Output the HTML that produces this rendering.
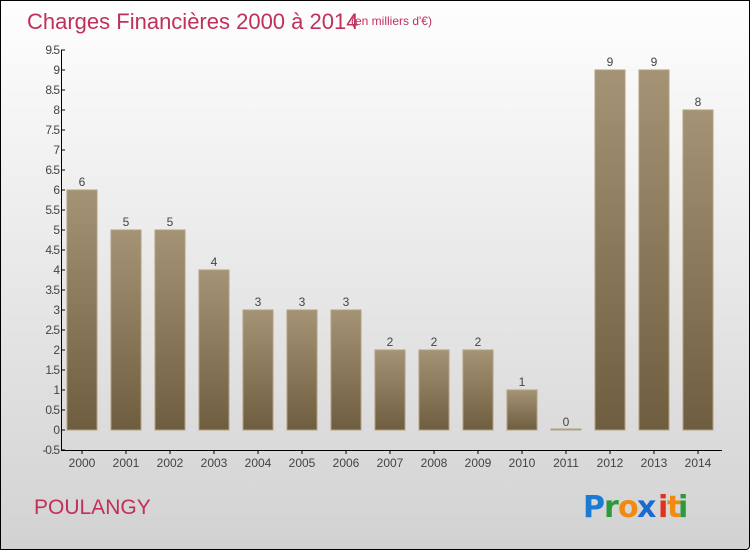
<!DOCTYPE html>
<html><head><meta charset="utf-8"><style>
html,body{margin:0;padding:0}
body{width:750px;height:550px;overflow:hidden;font-family:"Liberation Sans",sans-serif}
#wrap{position:relative;width:748px;height:548px;border:1px solid #000;border-radius:0 0 4px 0;background:linear-gradient(#fefefe,#d2d2d2)}
</style></head><body>
<div id="wrap">
<svg id="chart" width="748" height="548" style="position:absolute;left:0;top:0">
<text x="26" y="28" font-size="22" fill="#c0305a">Charges Financières 2000 à 2014</text>
<text x="350" y="24" font-size="12" fill="#c0305a">(en milliers d'€)</text>
<text x="33" y="513" font-size="21" fill="#c0305a">POULANGY</text>
<g font-size="30" font-weight="bold" font-family="'DejaVu Sans',sans-serif">
<text x="582" y="516" fill="#1a7ad4">P</text><text x="603" y="516" fill="#2a9a3a">r</text><text x="617" y="516" fill="#f08a10">o</text><text x="636" y="516" fill="#1a6ad4">x</text><text x="657" y="516" fill="#e03020">i</text><text x="666" y="516" fill="#f08a10">t</text><text x="677" y="516" fill="#2a9a3a">i</text>
</g>
<defs><linearGradient id="bg" x1="0" y1="0" x2="0" y2="1"><stop offset="0" stop-color="#a59375"/><stop offset="1" stop-color="#6f5d40"/></linearGradient></defs>
<g id="bars"></g><g id="axes"></g>
</svg>
</div>
<script>
const categories=["2000","2001","2002","2003","2004","2005","2006","2007","2008","2009","2010","2011","2012","2013","2014"];
const values=[6,5,5,4,3,3,3,2,2,2,1,0,9,9,8];
const yTicks=[-0.5,0,0.5,1,1.5,2,2.5,3,3.5,4,4.5,5,5.5,6,6.5,7,7.5,8,8.5,9,9.5];
const NS="http://www.w3.org/2000/svg";
const y=v=>429-(v)*40;
const x=i=>81+i*44;
const bars=document.getElementById('bars'),axes=document.getElementById('axes');
function mk(tag,at,parent){const e=document.createElementNS(NS,tag);for(const k in at)e.setAttribute(k,at[k]);parent.appendChild(e);return e;}
values.forEach((v,i)=>{
 const h=Math.max(y(0)-y(v),1);
 const r=mk('rect',{x:x(i)-15,y:y(0)-h,width:30,height:h,fill:'url(#bg)',stroke:'#b0a080','stroke-width':1},bars);
 
 
 const t=mk('text',{x:x(i),y:y(v)-4,'text-anchor':'middle','font-size':12,fill:'#444'},bars);
 t.textContent=v;
 
 
 const tk=mk('line',{x1:x(i),x2:x(i),y1:449,y2:453,stroke:'#000'},axes);
 const lb=mk('text',{x:x(i),y:466,'text-anchor':'middle','font-size':12,fill:'#444'},axes);
 lb.textContent=categories[i];
 
 
});
const ya=mk('line',{x1:60.5,x2:60.5,y1:y(9.5),y2:y(-0.5),stroke:'#000'},axes);


const xa=mk('line',{x1:60,x2:721,y1:449.5,y2:449.5,stroke:'#000'},axes);


yTicks.forEach(v=>{
 mk('line',{x1:60,x2:64,y1:y(v),y2:y(v),stroke:'#000'},axes);
 const t=mk('text',{x:58,y:y(v)+4,'text-anchor':'end','font-size':12,fill:'#444','letter-spacing':'-1'},axes);
 t.textContent=v;
 
 
});
</script>
</body></html>
